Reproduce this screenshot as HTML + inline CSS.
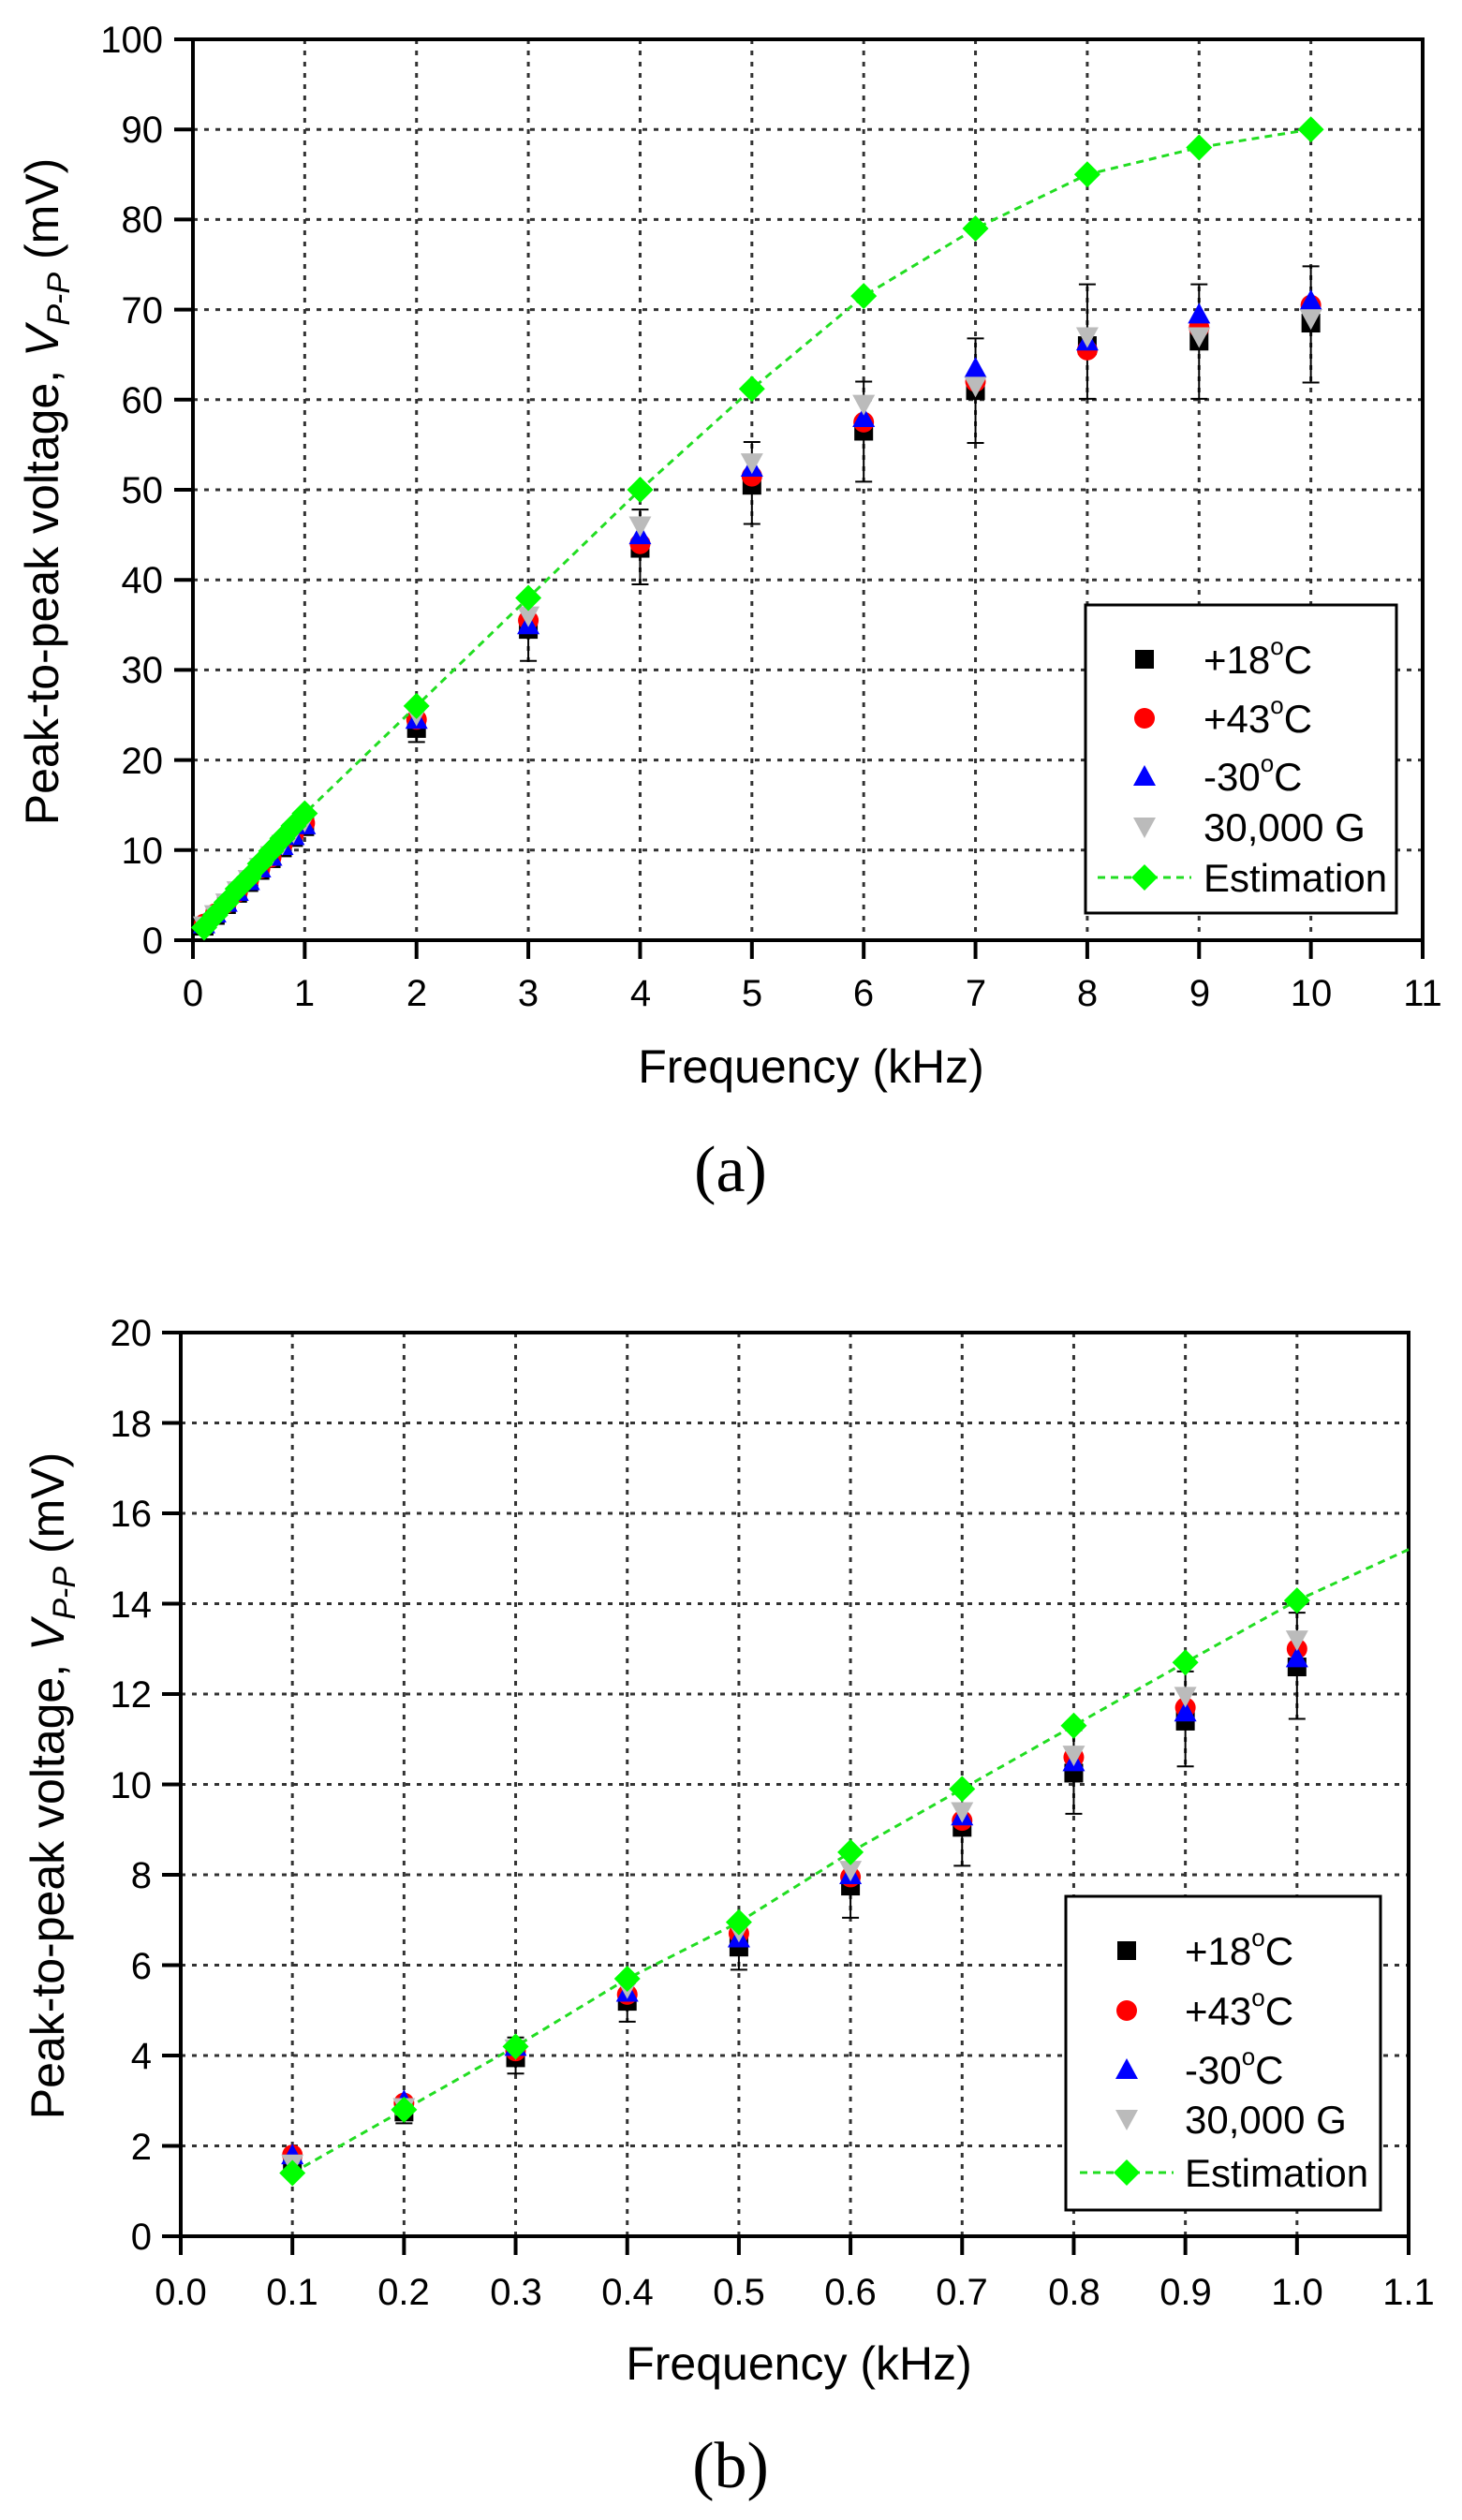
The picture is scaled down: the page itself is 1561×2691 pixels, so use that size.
<!DOCTYPE html>
<html><head><meta charset="utf-8"><style>
html,body{margin:0;padding:0;background:#fff}
svg{display:block}
text{font-family:"Liberation Sans",Arial,sans-serif;fill:#000}
</style></head><body>
<svg id="s" width="1561" height="2691" viewBox="0 0 1561 2691" xmlns="http://www.w3.org/2000/svg">
<g id="ga"></g><g id="gb"></g>
<!-- plot a text -->
<g font-size="40" text-anchor="end">
<text x="174" y="56">100</text><text x="174" y="152">90</text><text x="174" y="248">80</text><text x="174" y="345">70</text><text x="174" y="441">60</text><text x="174" y="537">50</text><text x="174" y="633">40</text><text x="174" y="729">30</text><text x="174" y="826">20</text><text x="174" y="922">10</text><text x="174" y="1018">0</text>
</g>
<g font-size="40" text-anchor="middle">
<text x="206" y="1074">0</text><text x="325" y="1074">1</text><text x="445" y="1074">2</text><text x="564" y="1074">3</text><text x="684" y="1074">4</text><text x="803" y="1074">5</text><text x="922" y="1074">6</text><text x="1042" y="1074">7</text><text x="1161" y="1074">8</text><text x="1281" y="1074">9</text><text x="1400" y="1074">10</text><text x="1519" y="1074">11</text>
</g>
<text x="866" y="1156" font-size="50" text-anchor="middle">Frequency (kHz)</text>
<text transform="translate(62,525) rotate(-90)" font-size="50" text-anchor="middle">Peak-to-peak voltage,  <tspan font-style="italic">V</tspan><tspan font-style="italic" font-size="34" dy="12">P-P</tspan><tspan dy="-12"> (mV)</tspan></text>
<text x="780" y="1272" font-size="70" text-anchor="middle" style="font-family:'Liberation Serif',serif">(a)</text>
<!-- plot b text -->
<g font-size="40" text-anchor="end">
<text x="162" y="1437">20</text><text x="162" y="1534">18</text><text x="162" y="1630">16</text><text x="162" y="1727">14</text><text x="162" y="1823">12</text><text x="162" y="1920">10</text><text x="162" y="2016">8</text><text x="162" y="2113">6</text><text x="162" y="2209">4</text><text x="162" y="2306">2</text><text x="162" y="2402">0</text>
</g>
<g font-size="40" text-anchor="middle">
<text x="193" y="2461">0.0</text><text x="312" y="2461">0.1</text><text x="431" y="2461">0.2</text><text x="551" y="2461">0.3</text><text x="670" y="2461">0.4</text><text x="789" y="2461">0.5</text><text x="908" y="2461">0.6</text><text x="1027" y="2461">0.7</text><text x="1147" y="2461">0.8</text><text x="1266" y="2461">0.9</text><text x="1385" y="2461">1.0</text><text x="1504" y="2461">1.1</text>
</g>
<text x="853" y="2541" font-size="50" text-anchor="middle">Frequency (kHz)</text>
<text transform="translate(68,1907) rotate(-90)" font-size="50" text-anchor="middle">Peak-to-peak voltage,  <tspan font-style="italic">V</tspan><tspan font-style="italic" font-size="34" dy="12">P-P</tspan><tspan dy="-12"> (mV)</tspan></text>
<text x="780" y="2656" font-size="70" text-anchor="middle" style="font-family:'Liberation Serif',serif">(b)</text>
<!-- legends -->
<rect x="1159" y="646" width="332" height="329" fill="#fff" stroke="#000" stroke-width="3"/>
<g font-size="42">
<text x="1285" y="719">+18<tspan font-size="26" dy="-20">o</tspan><tspan dy="20">C</tspan></text>
<text x="1285" y="782">+43<tspan font-size="26" dy="-20">o</tspan><tspan dy="20">C</tspan></text>
<text x="1285" y="844">-30<tspan font-size="26" dy="-20">o</tspan><tspan dy="20">C</tspan></text>
<text x="1285" y="898">30,000 G</text>
<text x="1285" y="952">Estimation</text>
</g>
<rect x="1138" y="2025" width="336" height="335" fill="#fff" stroke="#000" stroke-width="3"/>
<g font-size="42">
<text x="1265" y="2098">+18<tspan font-size="26" dy="-20">o</tspan><tspan dy="20">C</tspan></text>
<text x="1265" y="2162">+43<tspan font-size="26" dy="-20">o</tspan><tspan dy="20">C</tspan></text>
<text x="1265" y="2225">-30<tspan font-size="26" dy="-20">o</tspan><tspan dy="20">C</tspan></text>
<text x="1265" y="2278">30,000 G</text>
<text x="1265" y="2335">Estimation</text>
</g>
<g id="lg"></g>
</svg>
<script>
var NS="http://www.w3.org/2000/svg";
function el(p,t,a){var e=document.createElementNS(NS,t);for(var k in a)e.setAttribute(k,a[k]);p.appendChild(e);return e;}
function sq(g,x,y){el(g,"rect",{x:x-10,y:y-10,width:20,height:20,fill:"#000"});}
function ci(g,x,y){el(g,"circle",{cx:x,cy:y,r:11,fill:"#f00"});}
function tu(g,x,y){el(g,"polygon",{points:(x)+","+(y-12)+" "+(x-12)+","+(y+10)+" "+(x+12)+","+(y+10),fill:"#00f"});}
function td(g,x,y){el(g,"polygon",{points:(x-12)+","+(y-10)+" "+(x+12)+","+(y-10)+" "+x+","+(y+12),fill:"#bbb"});}
function di(g,x,y){el(g,"polygon",{points:x+","+(y-14)+" "+(x+14)+","+y+" "+x+","+(y+14)+" "+(x-14)+","+y,fill:"#0f0"});}
function plot(g,L,R,T,B,xmax,ymax,nx,ny,xs,d,ext){
 var X=function(v){return L+(R-L)*v/xmax},Y=function(v){return B-(B-T)*v/ymax};
 for(var i=1;i<=nx;i++){var x=L+(R-L)*i/nx;el(g,"line",{x1:x,y1:T,x2:x,y2:B,stroke:"#333","stroke-width":3,"stroke-dasharray":"5 7"});}
 for(var j=1;j<ny;j++){var y=T+(B-T)*j/ny;el(g,"line",{x1:L,y1:y,x2:R,y2:y,stroke:"#333","stroke-width":3,"stroke-dasharray":"5 7"});}
 for(var i=0;i<=nx;i++){var x=L+(R-L)*i/nx;el(g,"line",{x1:x,y1:B,x2:x,y2:B+20,stroke:"#000","stroke-width":4});}
 for(var j=0;j<=ny;j++){var y=T+(B-T)*j/ny;el(g,"line",{x1:L-20,y1:y,x2:L,y2:y,stroke:"#000","stroke-width":4});}
 el(g,"rect",{x:L,y:T,width:R-L,height:B-T,fill:"none",stroke:"#000","stroke-width":4});
 // error bars
 d.err.forEach(function(e,i){if(!e)return;var x=X(xs[i]);el(g,"line",{x1:x,y1:Y(e[0]),x2:x,y2:Y(e[1]),stroke:"#000","stroke-width":2});
  el(g,"line",{x1:x-9,y1:Y(e[0]),x2:x+9,y2:Y(e[0]),stroke:"#000","stroke-width":2});el(g,"line",{x1:x-9,y1:Y(e[1]),x2:x+9,y2:Y(e[1]),stroke:"#000","stroke-width":2});});
 xs.forEach(function(v,i){sq(g,X(v),Y(d.k[i]));});
 xs.forEach(function(v,i){ci(g,X(v),Y(d.r[i]));});
 xs.forEach(function(v,i){tu(g,X(v),Y(d.b[i]));});
 xs.forEach(function(v,i){td(g,X(v),Y(d.g[i]));});
 var pts=xs.map(function(v,i){return X(v)+","+Y(d.e[i])});
 if(ext)pts.push(X(ext[0])+","+Y(ext[1]));
 el(g,"polyline",{points:pts.join(" "),fill:"none",stroke:"#2d2","stroke-width":3,"stroke-dasharray":"8 6"});
 xs.forEach(function(v,i){di(g,X(v),Y(d.e[i]));});
}
var sx=[0.1,0.2,0.3,0.4,0.5,0.6,0.7,0.8,0.9,1.0];
var sk=[1.55,2.75,3.95,5.2,6.4,7.75,9.05,10.25,11.4,12.6],
 sr=[1.8,2.95,4.1,5.35,6.7,7.95,9.2,10.6,11.7,13.0],
 sb=[1.8,3.0,4.2,5.4,6.6,8.0,9.3,10.5,11.6,12.8],
 sg=[1.6,2.85,4.15,5.5,6.75,8.1,9.4,10.65,11.95,13.2],
 se=[1.4,2.8,4.2,5.7,6.95,8.5,9.9,11.3,12.7,14.07],
 serr=[null,[2.5,3.0],[3.6,4.4],[4.75,5.6],[5.9,6.9],[7.05,8.5],[8.2,9.9],[9.35,11.2],[10.4,12.5],[11.45,13.8]];
plot(document.getElementById("gb"),193,1504,1423,2388,1.1,20,11,10,sx,{k:sk,r:sr,b:sb,g:sg,e:se,err:serr},[1.1,15.2]);
var ax=sx.concat([2,3,4,5,6,7,8,9,10]);
plot(document.getElementById("ga"),206,1519,42,1004,11,100,11,10,ax,{
 k:sk.concat([23.5,34.5,43.5,50.5,56.5,61,66,66.5,68.5]),
 r:sr.concat([24.5,35.5,44,51.5,57.5,62,65.5,68,70.5]),
 b:sb.concat([24.5,35,45,52.5,58,63.5,66.5,69.5,71]),
 g:sg.concat([25,36,46,53,59.5,61.5,67,67,69]),
 e:se.concat([26,38,50,61.2,71.5,79,85,88,90]),
 err:[null,null,null,null,null,null,null,null,null,null,[22,25],[31,36],[39.5,47.8],[46.2,55.3],[50.9,62],[55.2,66.8],[60.1,72.8],[60.1,72.8],[61.9,74.8]]});
var lg=document.getElementById("lg");
sq(lg,1222,704);ci(lg,1222,767);tu(lg,1222,829);td(lg,1222,883);
el(lg,"line",{x1:1172,y1:937,x2:1272,y2:937,stroke:"#2d2","stroke-width":3,"stroke-dasharray":"8 6"});di(lg,1222,937);
sq(lg,1203,2083);ci(lg,1203,2147);tu(lg,1203,2210);td(lg,1203,2263);
el(lg,"line",{x1:1153,y1:2320,x2:1253,y2:2320,stroke:"#2d2","stroke-width":3,"stroke-dasharray":"8 6"});di(lg,1203,2320);
</script>
</body></html>
